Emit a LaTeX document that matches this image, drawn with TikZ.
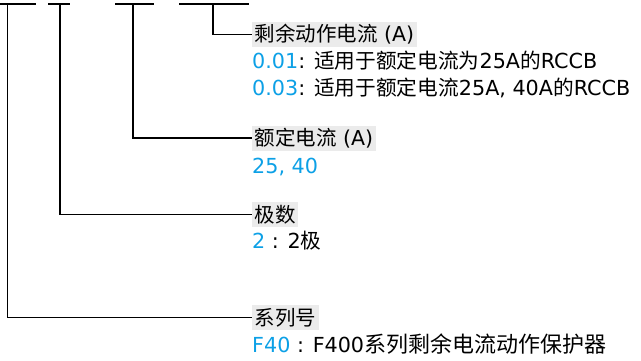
\documentclass[tikz,border=0pt]{standalone}
\usepackage{fontspec}
\setmainfont{DejaVu Sans}
\newfontfamily\cjk{Noto Sans CJK SC}
\definecolor{codeblue}{HTML}{0CA0E6}
\definecolor{hdrgray}{HTML}{EBEBEB}
\tikzset{
  conn/.style={line width=1.8pt, black},
  hdr/.style={fill=hdrgray, anchor=west, minimum height=25pt, inner ysep=0pt, inner xsep=2.5pt,
              font=\fontsize{20.5}{25}\selectfont},
  desc/.style={anchor=base west, inner sep=0pt, font=\fontsize{20.7}{26}\selectfont},
  code/.style={text=codeblue}
}
\begin{document}
\begin{tikzpicture}[x=1pt,y=-1pt]
\useasboundingbox (0,0) rectangle (641,360);
% top code segments
\coordinate (a1) at (0,4);   \coordinate (b1) at (36,4);
\coordinate (a2) at (48,4);  \coordinate (b2) at (70,4);
\coordinate (a3) at (115,4); \coordinate (b3) at (154,4);
\coordinate (a4) at (179,4); \coordinate (b4) at (249,4);
\draw[conn] (a1) -- (b1);
\draw[conn] (a2) -- (b2);
\draw[conn] (a3) -- (b3);
\draw[conn] (a4) -- (b4);
\coordinate (s1) at (7.5,4);
\coordinate (s2) at (60,4);
\coordinate (s3) at (133,4);
\coordinate (s4) at (213,4);
% headers
\node[hdr] (h4) at (252,34.5) {{\cjk 剩余动作电流} (A)};
\node[hdr] (h3) at (252,138) {{\cjk 额定电流} (A)};
\node[hdr] (h2) at (252,214.5) {{\cjk 极数}};
\node[hdr] (h1) at (252,317.5) {{\cjk 系列号}};
% descriptions
\node[desc] (d4a) at (252,68) {{\color{codeblue}0.01}: {\cjk 适用于额定电流为}25A{\cjk 的}RCCB};
\node[desc] (d4b) at (252,95) {{\color{codeblue}0.03}: {\cjk 适用于额定电流}25A, 40A{\cjk 的}RCCB};
\node[desc] (d3) at (252,173) {{\color{codeblue}25, 40}};
\node[desc] (d2) at (252,248) {{\color{codeblue}2} : 2{\cjk 极}};
\node[desc] (d1) at (252,352) {{\color{codeblue}F40} : F400{\fontsize{22}{26}\cjk 系列剩余电流动作保护器}};
% connectors
\draw[conn] (s4) |- (h4.west);
\draw[conn] (s3) |- (h3.west);
\draw[conn] (s2) |- (h2.west);
\draw[conn] (s1) |- (h1.west);
\end{tikzpicture}
\end{document}
